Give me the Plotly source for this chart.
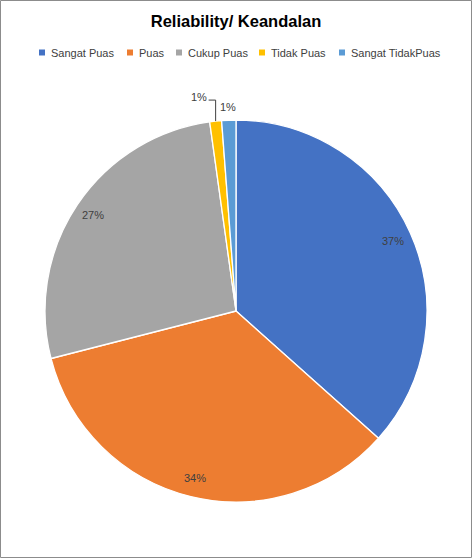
import math
import plotly.graph_objects as go

categories = ["Sangat Puas", "Puas", "Cukup Puas", "Tidak Puas", "Sangat TidakPuas"]
values = [36.6, 34.4, 26.8, 1.0, 1.2]
colors = ["#4472C4", "#ED7D31", "#A5A5A5", "#FFC000", "#5B9BD5"]

W, H = 472, 558
CX, CY, R = 236, 311, 191
FONT = "Liberation Sans, Arial"

fig = go.Figure(go.Pie(
    labels=categories, values=values, sort=False, direction="clockwise", rotation=0,
    marker=dict(colors=colors, line=dict(color="white", width=1.3)),
    textinfo="none", hoverinfo="label+percent", showlegend=False,
    domain=dict(x=[(CX - R) / W, (CX + R) / W], y=[1 - (CY + R) / H, 1 - (CY - R) / H]),
))

def pt(angle_deg, r):
    a = math.radians(angle_deg)
    px = CX + r * math.sin(a)
    py = CY - r * math.cos(a)
    return px / W, 1 - py / H

total = sum(values)
cum = 0
ann = []
shapes = []
for i, v in enumerate(values):
    start = cum / total * 360
    cum += v
    end = cum / total * 360
    mid = (start + end) / 2
    label = f"{round(v / total * 100)}%"
    if v / total > 0.05:
        x, y = pt(mid, 0.9 * R)
        ann.append(dict(x=x, y=y, text=label, xanchor="center", yanchor="middle"))
    elif i == 3:
        x0, y0 = pt(mid, R)
        x1, y1 = x0, y0 + (0.11 * R) / H
        x2 = x1 - 7 / W
        shapes.append(dict(type="path", xref="paper", yref="paper",
                           path=f"M {x0} {y0} L {x1} {y1} L {x2} {y1}",
                           line=dict(color="#404040", width=1)))
        ann.append(dict(x=x2, y=y1, text=label, xanchor="right", yanchor="bottom", yshift=-5))
    else:
        x, y = pt(mid, 1.07 * R)
        ann.append(dict(x=x, y=y, text=label, xanchor="center", yanchor="middle"))

for a in ann:
    a.update(xref="paper", yref="paper", showarrow=False,
             font=dict(family=FONT, size=11, color="#404040"))

# legend (drawn as layout text + swatches, one row like the original)
legend_left = [39, 127, 176, 259, 339]
LEG_Y = 52.5
for name, col, lx in zip(categories, colors, legend_left):
    shapes.append(dict(type="rect", xref="paper", yref="paper",
                       x0=lx / W, x1=(lx + 6) / W, y0=1 - (LEG_Y + 3) / H, y1=1 - (LEG_Y - 3) / H,
                       fillcolor=col, line=dict(width=0)))
    ann.append(dict(x=(lx + 10) / W, y=1 - (LEG_Y + 0.5) / H, xref="paper", yref="paper",
                    text=name, showarrow=False, xanchor="left", yanchor="middle",
                    font=dict(family=FONT, size=11, color="#404040")))

shapes.append(dict(type="rect", xref="paper", yref="paper", x0=0.5 / W, x1=1 - 0.5 / W,
                   y0=0.5 / H, y1=1 - 0.5 / H, line=dict(color="#8C8C8C", width=1)))

fig.update_layout(
    width=W, height=H, margin=dict(l=0, r=0, t=0, b=0),
    paper_bgcolor="white", plot_bgcolor="white", showlegend=False,
    title=dict(text="<b>Reliability/ Keandalan</b>", x=0.5, xanchor="center", y=1 - 21 / H,
               yanchor="middle", font=dict(family=FONT, size=16.5, color="#000000")),
    annotations=ann, shapes=shapes,
)

fig.write_html(
    "out.html",
    config={"displayModeBar": False},
    post_script="document.body.style.margin='0';document.body.style.padding='0';"
                "document.body.style.overflow='hidden';",
)
